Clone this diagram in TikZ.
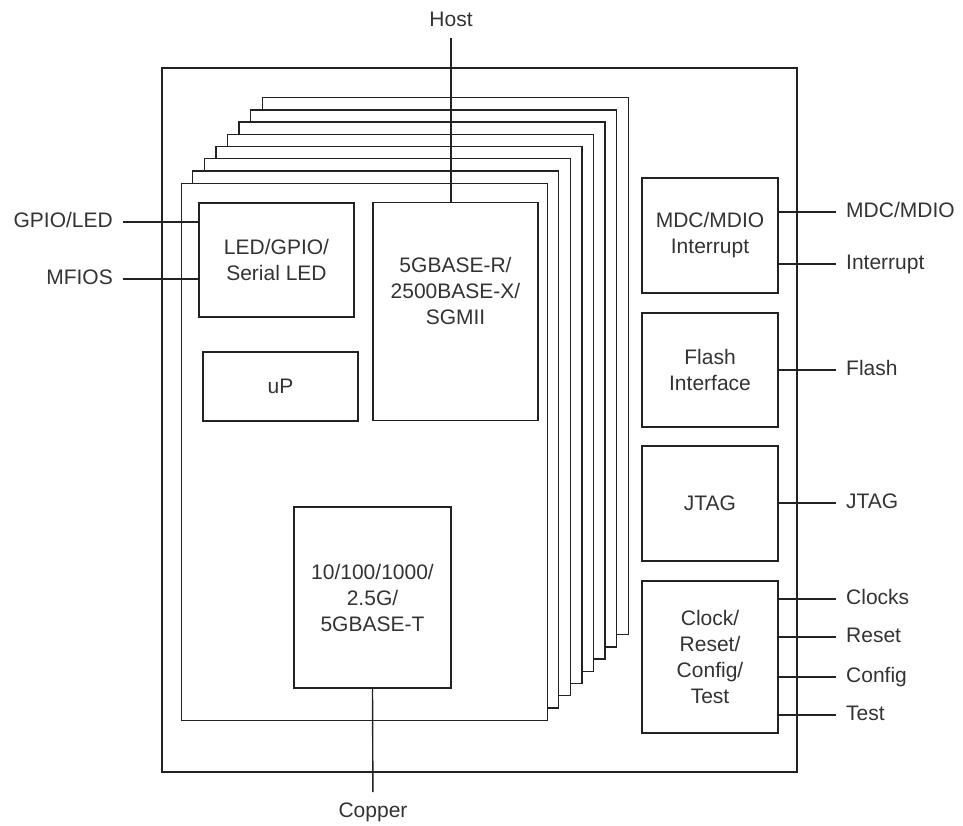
\documentclass[tikz,border=0pt]{standalone}
\usepackage{fontspec}
\setmainfont{Liberation Sans}
\usetikzlibrary{positioning,calc}
\definecolor{linegray}{RGB}{34,34,34}
\definecolor{textgray}{RGB}{51,51,51}
\tikzset{
    block/.style={draw=linegray, line width=1.4pt, fill=white, align=center, text=textgray, inner sep=0pt},
    sig/.style={text=textgray, inner xsep=10pt, inner ysep=1pt, text height=15pt, text depth=4pt},
    wire/.style={draw=linegray, line width=1.4pt},
}
\begin{document}
\begin{tikzpicture}[x=1pt, y=-1pt, font=\fontsize{21}{26}\selectfont]
\useasboundingbox (0,0) rectangle (963,825);

% Package outline
\draw[wire] (162,68) rectangle (797,772);

% Port slices (back to front), each offset up and right
\foreach \i in {7,...,1}
    \draw[wire, fill=white] (181+11.6*\i, 183-12.2*\i) rectangle ++(366,537);
\node[block, anchor=north west, minimum width=366pt, minimum height=537pt] (port) at (181,183) {};

% Blocks inside the front slice
\node[block, minimum width=155pt, minimum height=114pt] (led) at (276.5,260) {LED/GPIO/\\Serial LED};
\node[block, minimum width=155pt, minimum height=69pt] (up) at (280.5,386.5) {uP};
\node[block, minimum width=165pt, minimum height=218pt] (serdes) at (455.5,311.5) {};
\node[text=textgray, align=center] (serdestxt) at (455.5,291) {5GBASE-R/\\2500BASE-X/\\SGMII};
\node[block, minimum width=157pt, minimum height=181pt] (phy) at (372.5,597.5) {10/100/1000/\\2.5G/\\5GBASE-T};

% Shared blocks (right column)
\node[block, minimum width=136pt, minimum height=115pt] (mdio) at (710,235.5) {MDC/MDIO\\Interrupt};
\node[block, minimum width=136pt, minimum height=114pt] (flash) at (710,370) {Flash\\Interface};
\node[block, minimum width=136pt, minimum height=115pt] (jtag) at (710,503.5) {JTAG};
\node[block, minimum width=136pt, minimum height=152pt] (ctrl) at (710,657) {Clock/\\Reset/\\Config/\\Test};

% Host and copper
\node[sig, anchor=south] (host) at (451,32) {Host};
\draw[wire, shorten <=6pt] (host) -- (host |- serdes.north);
\node[sig, anchor=north] (copper) at (373,801) {Copper};
\draw[wire, shorten >=9pt] (phy.south) -- (copper);

% Left signals
\node[sig, anchor=east] (gpio) at (123,222) {GPIO/LED};
\node[sig, anchor=east] (mfios) at (123,279) {MFIOS};
\draw[wire] (gpio) -- (gpio -| led.west);
\draw[wire] (mfios) -- (mfios -| led.west);

% Right signals
\node[sig, anchor=west] (mdcl) at (836,212) {MDC/MDIO};
\node[sig, anchor=west] (intl) at (836,264) {Interrupt};
\node[sig, anchor=west] (flashl) at (836,370) {Flash};
\node[sig, anchor=west] (jtagl) at (836,503) {JTAG};
\node[sig, anchor=west] (clkl) at (836,599) {Clocks};
\node[sig, anchor=west] (rstl) at (836,637) {Reset};
\node[sig, anchor=west] (cfgl) at (836,677) {Config};
\node[sig, anchor=west] (testl) at (836,715) {Test};
\draw[wire] (mdio.east |- mdcl) -- (mdcl);
\draw[wire] (mdio.east |- intl) -- (intl);
\draw[wire] (flash.east |- flashl) -- (flashl);
\draw[wire] (jtag.east |- jtagl) -- (jtagl);
\draw[wire] (ctrl.east |- clkl) -- (clkl);
\draw[wire] (ctrl.east |- rstl) -- (rstl);
\draw[wire] (ctrl.east |- cfgl) -- (cfgl);
\draw[wire] (ctrl.east |- testl) -- (testl);

\end{tikzpicture}
\end{document}
